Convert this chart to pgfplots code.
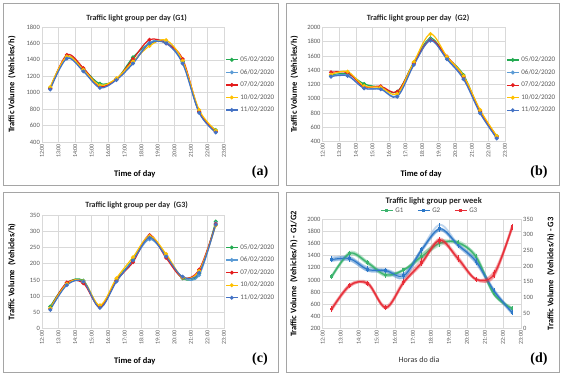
\documentclass[border=0pt]{standalone}
\usepackage{pgfplots}
\pgfplotsset{compat=1.18}
\usepackage{pgfplotstable}
\usepackage{fontspec}
\setmainfont{Carlito}
\newfontfamily\serifb{Liberation Serif}

\definecolor{cgreen}{RGB}{34,170,80}
\definecolor{clblue}{RGB}{91,155,213}
\definecolor{cred}{RGB}{228,28,28}
\definecolor{cyellow}{RGB}{255,192,0}
\definecolor{cblue}{RGB}{68,114,196}
\definecolor{gone}{RGB}{60,180,110}
\definecolor{gtwo}{RGB}{45,120,200}
\definecolor{gthree}{RGB}{232,45,55}
\definecolor{gridgray}{RGB}{217,217,217}
\definecolor{tickgray}{RGB}{89,89,89}
\definecolor{framegray}{RGB}{165,165,165}

% G1
\pgfplotstableread{
x    d05  d06  d07  d10  d11  mean lo   hi
12.5 1060 1050 1050 1070 1040 1054 1040 1070
13.5 1440 1430 1460 1440 1415 1437 1415 1460
14.5 1290 1270 1300 1280 1260 1280 1260 1300
15.5 1110 1070 1080 1090 1060 1082 1060 1110
16.5 1165 1165 1165 1175 1155 1165 1155 1175
17.5 1430 1370 1410 1380 1355 1389 1355 1430
18.5 1600 1610 1645 1570 1600 1605 1570 1645
19.5 1610 1620 1600 1640 1600 1614 1600 1640
20.5 1380 1370 1410 1390 1355 1381 1355 1410
21.5 765  760  770  790  755  768  755  790
22.5 545  525  530  540  515  531  515  545
}\tabgone
% G2
\pgfplotstableread{
x    d05  d06  d07  d10  d11  mean lo   hi
12.5 1330 1320 1370 1340 1310 1334 1310 1370
13.5 1350 1330 1365 1380 1320 1349 1320 1380
14.5 1207 1150 1170 1180 1147 1171 1147 1207
15.5 1160 1140 1175 1160 1133 1154 1133 1175
16.5 1100 1040 1099 1070 1030 1068 1030 1100
17.5 1510 1490 1500 1515 1473 1498 1473 1515
18.5 1846 1830 1820 1906 1813 1843 1813 1906
19.5 1580 1560 1590 1589 1552 1574 1552 1590
20.5 1333 1290 1310 1320 1273 1305 1273 1333
21.5 820  810  830  843  797  820  797  843
22.5 480  460  470  480  446  467  446  480
}\tabgtwo
% G3
\pgfplotstableread{
x    d05 d06 d07 d10 d11 mean  lo  hi
12.5 68  62  62  63  58  62.6  58  68
13.5 140 136 142 138 134 138   134 142
14.5 148 143 140 146 145 144.4 140 148
15.5 68  66  67  72  64  67.4  64  72
16.5 150 147 148 155 145 149   145 155
17.5 212 210 205 220 210 211.4 205 220
18.5 283 275 288 285 280 282.2 275 288
19.5 225 225 218 230 222 224   218 230
20.5 155 158 157 158 160 157.6 155 160
21.5 170 165 182 178 172 173.4 165 182
22.5 330 325 322 318 320 323   318 330
}\tabgthree

\pgfplotsset{
  panel/.style={
    scale only axis,
    xmin=12, xmax=23,
    xtick={12,13,14,15,16,17,18,19,20,21,22,23},
    xticklabels={12:00,13:00,14:00,15:00,16:00,17:00,18:00,19:00,20:00,21:00,22:00,23:00},
    x tick label style={rotate=90, anchor=east, font=\fontsize{6}{7}\selectfont, text=tickgray, inner sep=2pt},
    y tick label style={font=\fontsize{6.5}{7.5}\selectfont, text=tickgray, inner sep=2pt},
    grid=major,
    major grid style={gridgray, line width=0.6pt},
    axis line style={gridgray, line width=0.6pt},
    tick style={draw=none},
    /pgf/number format/assume math mode=true,
    /pgf/number format/1000 sep={},
    xlabel style={font=\bfseries\fontsize{8.5}{10}\selectfont, anchor=center},
    ylabel style={font=\bfseries\fontsize{8.5}{10}\selectfont, anchor=center},
    title style={font=\bfseries\fontsize{8}{9}\selectfont, anchor=center, text=black!85, yshift=-6pt},
    legend style={draw=none, fill=none, font=\fontsize{7}{8}\selectfont, text=tickgray,
      row sep=2.2pt, inner sep=1pt, anchor=north west},
    legend cell align=left,
    legend image code/.code={\draw[mark repeat=2,mark phase=2] plot coordinates {(0pt,0pt) (6pt,0pt) (12pt,0pt)};},
  },
  day/.style={smooth, tension=0.55, line width=1.2pt, mark=*, mark size=1.3pt, mark options={solid}},
  band/.style={smooth, tension=0.55, line width=1.8pt, opacity=0.3, forget plot},
  meanl/.style={smooth, tension=0.55, line width=1pt, mark=square*, mark size=0.9pt,
    error bars/y dir=both, error bars/y explicit,
    error bars/error bar style={line width=1pt},
    error bars/error mark=-,
    error bars/error mark options={line width=0.8pt, mark size=1.4pt}},
}

\begin{document}
\begin{tikzpicture}
\fill[white] (0,0) rectangle (562pt,374pt);
\draw[framegray, line width=0.8pt] (3pt,189pt) rectangle (278pt,371pt);
\draw[framegray, line width=0.8pt] (286pt,189pt) rectangle (559pt,371pt);
\draw[framegray, line width=0.8pt] (3pt,2pt) rectangle (278pt,182pt);
\draw[framegray, line width=0.8pt] (286pt,2pt) rectangle (559pt,182pt);

% (a)
\begin{axis}[panel, at={(42pt,232pt)}, anchor=south west, width=182pt, height=115pt,
  ymin=400, ymax=1800, ytick={400,600,...,1800},
  title={Traffic light group per day (G1)},
  title style={at={(axis description cs:0.52,1.08)}},
  xlabel={Time of day}, xlabel style={at={(axis description cs:0.51,-0.28)}},
  ylabel={Traffic Volume\ \ (Vehicles/h)}, ylabel style={at={(axis description cs:-0.165,0.5)}},
  legend style={at={(axis description cs:1.0,0.77)}}]
\addplot[day, cgreen] table[y=d05]{\tabgone}; \addlegendentry{05/02/2020}
\addplot[day, clblue] table[y=d06]{\tabgone}; \addlegendentry{06/02/2020}
\addplot[day, cred] table[y=d07]{\tabgone}; \addlegendentry{07/02/2020}
\addplot[day, cyellow] table[y=d10]{\tabgone}; \addlegendentry{10/02/2020}
\addplot[day, cblue] table[y=d11]{\tabgone}; \addlegendentry{11/02/2020}
\end{axis}

% (b)
\begin{axis}[panel, at={(322.7pt,232.3pt)}, anchor=south west, width=182.3pt, height=114.4pt,
  ymin=400, ymax=2000, ytick={400,600,...,2000},
  title={Traffic light group per day\ \ (G2)},
  title style={at={(axis description cs:0.523,1.08)}},
  xlabel={Time of day}, xlabel style={at={(axis description cs:0.54,-0.28)}},
  ylabel={Traffic Volume\ \ (Vehicles/h)}, ylabel style={at={(axis description cs:-0.156,0.5)}},
  legend style={at={(axis description cs:1.0,0.77)}}]
\addplot[day, cgreen] table[y=d05]{\tabgtwo}; \addlegendentry{05/02/2020}
\addplot[day, clblue] table[y=d06]{\tabgtwo}; \addlegendentry{06/02/2020}
\addplot[day, cred] table[y=d07]{\tabgtwo}; \addlegendentry{07/02/2020}
\addplot[day, cyellow] table[y=d10]{\tabgtwo}; \addlegendentry{10/02/2020}
\addplot[day, cblue] table[y=d11]{\tabgtwo}; \addlegendentry{11/02/2020}
\end{axis}

% (c)
\begin{axis}[panel, at={(42pt,45.3pt)}, anchor=south west, width=182pt, height=113.7pt,
  ymin=0, ymax=350, ytick={0,50,...,350},
  title={Traffic light group per day\ \ (G3)},
  title style={at={(axis description cs:0.52,1.088)}},
  xlabel={Time of day}, xlabel style={at={(axis description cs:0.51,-0.283)}},
  ylabel={Traffic Volume\ \ (Vehicles/h)}, ylabel style={at={(axis description cs:-0.165,0.5)}},
  legend style={at={(axis description cs:1.0,0.77)}}]
\addplot[day, cgreen] table[y=d05]{\tabgthree}; \addlegendentry{05/02/2020}
\addplot[day, clblue] table[y=d06]{\tabgthree}; \addlegendentry{06/02/2020}
\addplot[day, cred] table[y=d07]{\tabgthree}; \addlegendentry{07/02/2020}
\addplot[day, cyellow] table[y=d10]{\tabgthree}; \addlegendentry{10/02/2020}
\addplot[day, cblue] table[y=d11]{\tabgthree}; \addlegendentry{11/02/2020}
\end{axis}

% (d) left axis G1, G2
\begin{axis}[panel, at={(322.7pt,45.3pt)}, anchor=south west, width=198.3pt, height=109.7pt,
  ymin=200, ymax=2000, ytick={200,400,...,2000},
  title={Traffic light group per week},
  title style={at={(axis description cs:0.56,1.16)}, font=\bfseries\fontsize{8.5}{10}\selectfont},
  xlabel={Horas do dia}, xlabel style={at={(axis description cs:0.486,-0.285)}, font=\fontsize{8}{9}\selectfont, text=black!80},
  ylabel={Traffic Volume\ \ (Vehicles/h) - G1/G2}, ylabel style={at={(axis description cs:-0.145,0.5)}},
  legend columns=3,
  legend style={at={(axis description cs:0.54,1.075)}, anchor=center, /tikz/every even column/.append style={column sep=12pt}}]
\addplot[gone, band] table[y=d05]{\tabgone};
\addplot[gone, band] table[y=d06]{\tabgone};
\addplot[gone, band] table[y=d07]{\tabgone};
\addplot[gone, band] table[y=d10]{\tabgone};
\addplot[gone, band] table[y=d11]{\tabgone};
\addplot[gtwo, band] table[y=d05]{\tabgtwo};
\addplot[gtwo, band] table[y=d06]{\tabgtwo};
\addplot[gtwo, band] table[y=d07]{\tabgtwo};
\addplot[gtwo, band] table[y=d10]{\tabgtwo};
\addplot[gtwo, band] table[y=d11]{\tabgtwo};
\addplot[gone, meanl]
  table[x=x, y=mean, y error plus expr=\thisrow{hi}-\thisrow{mean}, y error minus expr=\thisrow{mean}-\thisrow{lo}]{\tabgone};
\addlegendentry{G1}
\addplot[gtwo, meanl]
  table[x=x, y=mean, y error plus expr=\thisrow{hi}-\thisrow{mean}, y error minus expr=\thisrow{mean}-\thisrow{lo}]{\tabgtwo};
\addlegendentry{G2}
\addlegendimage{gthree, line width=1pt, mark=square*, mark size=0.9pt}
\addlegendentry{G3}
\end{axis}

% (d) right axis G3
\begin{axis}[panel, at={(322.7pt,45.3pt)}, anchor=south west, width=198.3pt, height=109.7pt,
  ymin=0, ymax=350, ytick={0,50,...,350},
  axis y line*=right, axis x line=none, grid=none,
  ylabel={Traffic Volume\ \ (Vehicles/h) - G3}, ylabel style={at={(axis description cs:1.151,0.5)}}]
\addplot[gthree, band] table[y=d05]{\tabgthree};
\addplot[gthree, band] table[y=d06]{\tabgthree};
\addplot[gthree, band] table[y=d07]{\tabgthree};
\addplot[gthree, band] table[y=d10]{\tabgthree};
\addplot[gthree, band] table[y=d11]{\tabgthree};
\addplot[gthree, meanl]
  table[x=x, y=mean, y error plus expr=\thisrow{hi}-\thisrow{mean}, y error minus expr=\thisrow{mean}-\thisrow{lo}]{\tabgthree};
\end{axis}

\node[font=\serifb\bfseries\fontsize{14}{16}\selectfont] at (260pt,202pt) {(a)};
\node[font=\serifb\bfseries\fontsize{14}{16}\selectfont] at (539pt,202pt) {(b)};
\node[font=\serifb\bfseries\fontsize{14}{16}\selectfont] at (260pt,15pt) {(c)};
\node[font=\serifb\bfseries\fontsize{14}{16}\selectfont] at (539pt,15pt) {(d)};
\end{tikzpicture}
\end{document}
